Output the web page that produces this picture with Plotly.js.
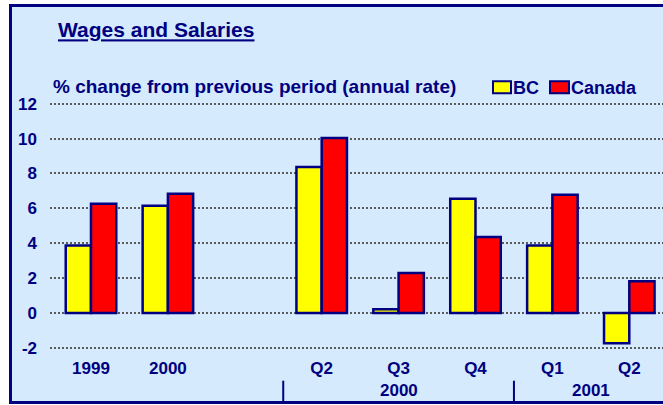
<!DOCTYPE html>
<html>
<head>
<meta charset="utf-8">
<script src="https://cdn.plot.ly/plotly-3.0.1.min.js"></script>
<style>
  html, body { margin: 0; padding: 0; background: #ffffff; overflow: hidden; width: 663px; height: 405px; }
  #frame { position: absolute; left: 9px; top: 4px; width: 760px; height: 394px;
           border-left: 3px solid #000080; border-top: 3px solid #000080; border-bottom: 3px solid #000080;
           background: #D5EAFD; overflow: hidden; }
  #chart { width: 760px; height: 394px; }
</style>
</head>
<body>
<div id="frame"><div id="chart"></div></div>
<script>
// ---- data ----
const categories = ['1999', '2000', '', 'Q2', 'Q3', 'Q4', 'Q1', 'Q2'];
const bcValues = [3.88, 6.15, null, 8.37, 0.22, 6.55, 3.88, -1.72];
const canadaValues = [6.27, 6.84, null, 10.04, 2.3, 4.36, 6.78, 1.83];
const groupLabels = ['2000', '2001'];
const groupStart = [2.5, 5.5];
const groupEnd = [5.5, 7.5];
const yTicks = [-2, 0, 2, 4, 6, 8, 10, 12];

const xPos = categories.map((c, i) => i);
const navy = '#000080';
const bg = '#D5EAFD';
const font = 'Liberation Sans, Arial, sans-serif';

const traces = [
  { type: 'bar', name: 'BC', x: xPos, y: bcValues,
    marker: { color: '#FFFF00', line: { color: navy, width: 2.5 } }, hoverinfo: 'y' },
  { type: 'bar', name: 'Canada', x: xPos, y: canadaValues,
    marker: { color: '#FF0000', line: { color: navy, width: 2.5 } }, hoverinfo: 'y' }
];

// plot area in px (inside frame): left 38, width 722, top 89.3, height 259
const plotW = 722, plotH = 259;
const px2x = p => (p - 50) / plotW;        // page x -> paper x
const py2y = p => (355.3 - p) / plotH;     // page y -> paper y

const annotations = [
  { text: '<b>% change from previous period (annual rate)</b>', xref: 'paper', yref: 'paper',
    x: px2x(51), y: py2y(87), xanchor: 'left', yanchor: 'middle', showarrow: false,
    font: { family: font, size: 19, color: navy } },
  { text: '<b>BC</b>', xref: 'paper', yref: 'paper', x: px2x(511), y: py2y(88),
    xanchor: 'left', yanchor: 'middle', showarrow: false, font: { family: font, size: 18, color: navy } },
  { text: '<b>Canada</b>', xref: 'paper', yref: 'paper', x: px2x(569), y: py2y(88),
    xanchor: 'left', yanchor: 'middle', showarrow: false, font: { family: font, size: 18, color: navy } }
];
groupLabels.forEach((g, k) => {
  annotations.push({ text: '<b>' + g + '</b>', xref: 'x', yref: 'paper',
    x: (groupStart[k] + groupEnd[k]) / 2, y: 0, yshift: -35, xanchor: 'center', yanchor: 'middle',
    showarrow: false, borderpad: 0, font: { family: font, size: 17, color: navy } });
});

const shapes = [
  { type: 'rect', xref: 'paper', yref: 'paper', x0: px2x(493), x1: px2x(511), y0: py2y(93.5), y1: py2y(81.5),
    fillcolor: '#FFFF00', line: { color: navy, width: 2 } },
  { type: 'rect', xref: 'paper', yref: 'paper', x0: px2x(550), x1: px2x(569), y0: py2y(93.5), y1: py2y(81.5),
    fillcolor: '#FF0000', line: { color: navy, width: 2 } }
];
groupStart.forEach(s => {
  shapes.push({ type: 'line', xref: 'x', yref: 'paper', x0: s, x1: s,
    y0: py2y(381), y1: py2y(405), line: { color: navy, width: 2 } });
});

const layout = {
  width: 760, height: 394,
  margin: { l: 38, r: 0, t: 89.3, b: 45.7 },
  paper_bgcolor: bg, plot_bgcolor: bg,
  showlegend: false,
  barmode: 'group', bargap: 0.343, bargroupgap: 0,
  title: { text: '<b><u>Wages and Salaries</u></b>', xref: 'container', yref: 'container',
    x: (58 - 12) / 760, y: 1 - (30 - 7) / 394, xanchor: 'left', yanchor: 'middle',
    font: { family: font, size: 21, color: navy } },
  xaxis: {
    range: [-0.533, -0.533 + plotW / 76.9],
    tickvals: xPos, ticktext: categories.map(c => '<b>' + c + '</b>'),
    showgrid: false, zeroline: false, showline: false, ticks: '',
    tickfont: { family: font, size: 17, color: navy }, ticklabelstandoff: 1
  },
  yaxis: {
    range: [-2.4, 12.44], tickvals: yTicks, ticktext: yTicks.map(v => '<b>' + v + '</b>'),
    showgrid: true, gridcolor: '#5A5A5A', gridwidth: 2, griddash: '2px,2px',
    zeroline: false, showline: false, ticks: '',
    tickfont: { family: font, size: 17, color: navy }, ticklabelstandoff: 12
  },
  annotations: annotations,
  shapes: shapes
};

Plotly.newPlot('chart', traces, layout, { staticPlot: true });
</script>
</body>
</html>
